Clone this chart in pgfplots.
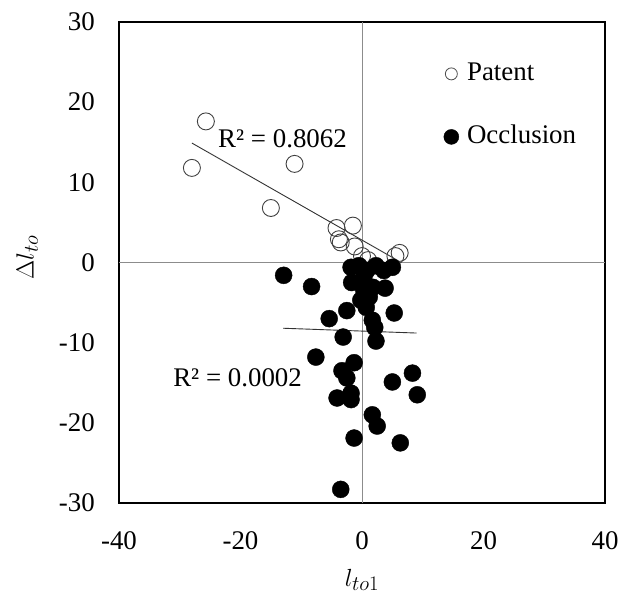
\documentclass[border=0pt]{standalone}
\usepackage{pgfplots}
\pgfplotsset{compat=1.18}
\usepackage{fontspec}
\setmainfont{Liberation Serif}
\begin{document}
\fontsize{27}{32}\selectfont
\begin{tikzpicture}
\begin{axis}[
    name=ax,
    scale only axis,
    width=486bp, height=481bp,
    xmin=-40, xmax=40, ymin=-30, ymax=30,
    xtick={-40,-20,0,20,40},
    ytick={-30,-20,-10,0,10,20,30},
    major tick length=0pt,
    /pgf/number format/assume math mode=true,
    ticklabel style={font=\fontsize{27}{32}\selectfont, inner sep=0pt},
    xticklabel style={yshift=-28bp},
    yticklabel style={xshift=-24bp},
    axis line style={line width=1.4bp},
    extra x ticks={0}, extra x tick labels={},
    extra y ticks={0}, extra y tick labels={},
    extra tick style={grid=major, major grid style={black!45, line width=0.8bp}},
    xlabel={$l_{to1}$},
    ylabel={$\Delta l_{to}$},
    label style={font=\fontsize{28}{32}\selectfont},
    xlabel style={at={(axis description cs:0.5,-0.16)}, anchor=center},
    ylabel style={at={(axis description cs:-0.189,0.511)}, anchor=center},
    legend style={draw=none, fill=none, at={(0.668,0.915)}, anchor=north west,
        inner sep=0pt, outer sep=0pt, row sep=39bp, column sep=8bp,
        nodes={inner sep=0pt, text height=18bp, text depth=6bp},
        font=\fontsize{27}{32}\selectfont},
    legend cell align=left,
]
% Patent
\addplot[only marks, mark=o, mark size=8.5bp, draw=black!75, line width=0.9bp,
    legend image code/.code={\draw[black!70, line width=0.8bp] (0bp,1bp) circle (6bp);}]
coordinates {
(-28.0,11.8) (-25.7,17.6) (-11.1,12.3) (-15.0,6.8) (-4.2,4.3) (-1.5,4.6)
(-3.8,2.9) (-3.5,2.5) (-1.2,2.0) (0.0,0.8) (5.5,0.8) (6.2,1.2) (1.0,0.3)
};
\addlegendentry{Patent}
% Occlusion
\addplot[only marks, mark=*, mark size=8.5bp, draw=black, fill=black,
    legend image code/.code={\fill[black] (0bp,1bp) circle (7.5bp);}]
coordinates {
(-12.9,-1.6) (-8.3,-3.0) (-5.4,-7.0) (-2.5,-6.0) (-3.1,-9.3) (-7.6,-11.8)
(-1.3,-12.5) (-3.3,-13.5) (-2.5,-14.4) (-4.1,-16.9) (-1.8,-17.1) (-1.8,-16.3)
(1.7,-19.0) (2.5,-20.4) (-1.3,-21.9) (-3.5,-28.3) (5.0,-14.9) (8.3,-13.8)
(9.1,-16.5) (6.3,-22.5) (5.3,-6.3) (2.3,-9.8) (0.7,-5.6) (1.7,-7.2)
(2.1,-8.1) (3.8,-3.2) (-1.7,-2.5) (-1.8,-0.6) (-0.5,-0.4) (2.3,-0.4)
(5.0,-0.6) (0.3,-1.9) (1.8,-3.1) (1.2,-4.3) (0.8,-1.0) (3.6,-1.0)
(-0.2,-4.7) (0.3,-3.5)
};
\addlegendentry{Occlusion}
% trend lines
\addplot[forget plot, black!80, line width=0.9bp] coordinates {(-28,14.9) (6,0.2)};
\addplot[forget plot, black!80, line width=0.9bp] coordinates {(-13,-8.2) (9,-8.8)};
\node[anchor=base west, inner sep=0pt] at (axis cs:-23.7,14.4) {R² = 0.8062};
\node[anchor=base west, inner sep=0pt] at (axis cs:-31.1,-15.5) {R² = 0.0002};
\end{axis}
\path ([xshift=-119bp,yshift=-96bp]ax.south west) rectangle ([xshift=25bp,yshift=22bp]ax.north east);
\end{tikzpicture}
\end{document}
